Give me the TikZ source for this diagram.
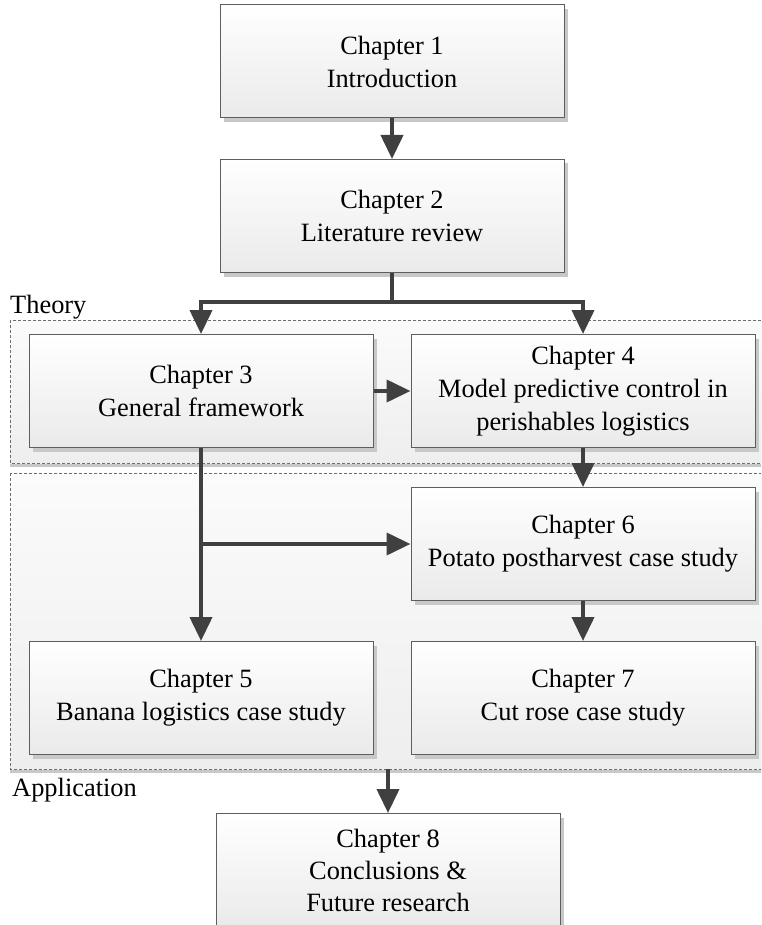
\documentclass[tikz,border=0pt]{standalone}
\usepackage{fontspec}
\setmainfont{Liberation Serif}
\usetikzlibrary{arrows.meta,shadows}
\definecolor{boxborder}{HTML}{5E5E5E}
\definecolor{boxbot}{HTML}{EAEAEA}
\definecolor{shadowgray}{HTML}{C8C8C8}
\definecolor{arrowgray}{HTML}{404040}
\definecolor{regborder}{HTML}{6E6E6E}
\definecolor{regtop}{HTML}{FBFBFB}
\definecolor{regbot}{HTML}{EEEEEE}
\tikzset{
  chapbox/.style={draw=boxborder, line width=1pt, top color=white, bottom color=boxbot,
    minimum width=344pt, minimum height=113pt, inner sep=0pt, align=center,
    font=\fontsize{26.4}{33}\selectfont,
    drop shadow={shadow xshift=4pt, shadow yshift=-4pt, fill=shadowgray, opacity=1}},
  region/.style={draw=regborder, line width=0.8pt, dash pattern=on 3pt off 2pt,
    top color=regtop, bottom color=regbot,
    drop shadow={shadow xshift=0pt, shadow yshift=-4pt, fill=shadowgray, opacity=1}},
  conn/.style={draw=arrowgray, line width=4pt},
  arr/.style={conn, -{Triangle[length=24pt,width=22pt]}},
  lbl/.style={anchor=base west, inner sep=0pt, font=\fontsize{26.4}{33}\selectfont}
}
\begin{document}
\begin{tikzpicture}[x=1pt,y=-1pt]
\useasboundingbox (0,0) rectangle (761,925);
\clip (0,0) rectangle (761,925);
\fill[white] (0,0) rectangle (761,925);
% regions
\path[region] (10,320) rectangle (790,463);
\path[region] (10,473) rectangle (790,769);
\node[lbl] (ltheory) at (10,313) {Theory};
\node[lbl] (lapp) at (12,796) {Application};
% boxes
\node[chapbox] (b1) at (392,61.5) {Chapter 1\\Introduction};
\node[chapbox] (b2) at (392,216) {Chapter 2\\Literature review};
\node[chapbox] (b3) at (201,391) {Chapter 3\\General framework};
\node[chapbox] (b4) at (583,391) {Chapter 4\\Model predictive control in\\perishables logistics};
\node[chapbox] (b6) at (583,544) {Chapter 6\\Potato postharvest case study};
\node[chapbox] (b5) at (201,698) {Chapter 5\\Banana logistics case study};
\node[chapbox] (b7) at (583,698) {Chapter 7\\Cut rose case study};
\node[chapbox, font=\fontsize{26.4}{32}\selectfont] (b8) at (388,870) {Chapter 8\\Conclusions \&\\Future research};
% connector points
\coordinate (split) at (392,302);
\coordinate (branch) at (201,544);
\coordinate (appout) at (388,769);
% connectors
\draw[arr] (b1.south) -- (b2.north);
\draw[conn] (b2.south) -- (split);
\draw[arr] (split) -| (b3.north);
\draw[arr] (split) -| (b4.north);
\draw[arr] (b3.east) -- (b4.west);
\draw[arr] (b4.south) -- (b6.north);
\draw[arr] (b6.south) -- (b7.north);
\draw[arr] (b3.south) -- (b5.north);
\draw[arr] (branch) -- (b6.west);
\draw[arr] (appout) -- (b8.north);
\end{tikzpicture}
\end{document}
